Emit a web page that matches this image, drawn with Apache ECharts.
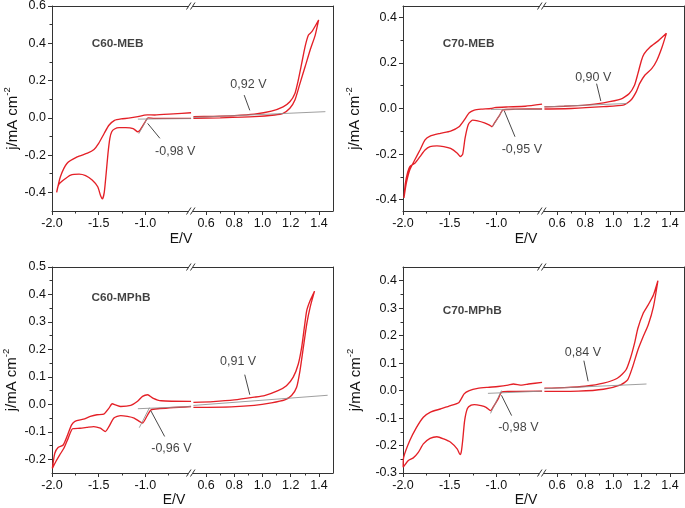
<!DOCTYPE html>
<html><head><meta charset="utf-8">
<script src="https://cdn.jsdelivr.net/npm/echarts@6/dist/echarts.min.js"></script>
<style>html,body{margin:0;padding:0;background:#fff}#c{width:685px;height:508px}</style>
</head><body><div id="c"></div>
<script>
// ---------- DATA ----------
const panelNames = ['C60-MEB', 'C70-MEB', 'C60-MPhB', 'C70-MPhB'];

// x tick labels
const xTicksLeft = [-2, -1.5, -1];
const xMinorLeft = [-1.75, -1.25, -0.75];
const xTicksRight = [0.6, 0.8, 1.0, 1.2, 1.4];
const xMinorRight = [0.7, 0.9, 1.1, 1.3];
const xRangeLeft = [-2, -0.5];
const xRangeRight = [0.5, 1.5];

// y tick labels per panel
const yRanges = [[-0.5, 0.6], [-0.45, 0.45], [-0.25, 0.5], [-0.3, 0.45]];
const yTicks1 = [-0.4, -0.2, 0, 0.2, 0.4, 0.6];
const yMinor1 = [-0.3, -0.1, 0.1, 0.3, 0.5];
const yTicks2 = [-0.4, -0.2, 0, 0.2, 0.4];
const yMinor2 = [-0.3, -0.1, 0.1, 0.3];
const yTicks3 = [-0.2, -0.1, 0, 0.1, 0.2, 0.3, 0.4, 0.5];
const yMinor3 = [-0.15, -0.05, 0.05, 0.15, 0.25, 0.35, 0.45];
const yTicks4 = [-0.3, -0.2, -0.1, 0, 0.1, 0.2, 0.3, 0.4];
const yMinor4 = [-0.25, -0.15, -0.05, 0.05, 0.15, 0.25, 0.35];

// CV curves (E/V, j/mA cm-2), in scan order
const c60mebLeft = [[-0.51,0.027],[-0.7,0.021],[-0.9,0.015],[-0.98,0.016],[-1.01,0.014],[-1.08,0.006],[-1.18,-0.002],[-1.26,-0.006],[-1.33,-0.014],[-1.39,-0.04],[-1.44,-0.083],[-1.5,-0.137],[-1.55,-0.17],[-1.62,-0.19],[-1.73,-0.21],[-1.84,-0.245],[-1.91,-0.316],[-1.95,-0.4],
  [-1.93,-0.36],[-1.877,-0.334],[-1.8,-0.307],[-1.71,-0.302],[-1.64,-0.31],[-1.57,-0.334],[-1.51,-0.37],[-1.478,-0.42],[-1.46,-0.435],[-1.44,-0.4],[-1.42,-0.3],[-1.4,-0.19],[-1.38,-0.11],[-1.36,-0.075],[-1.33,-0.06],[-1.28,-0.053],[-1.21,-0.053],[-1.13,-0.058],[-1.08,-0.075],[-1.06,-0.068],[-1.0,-0.02],[-0.97,0.0],[-0.9,-0.003],[-0.51,-0.003]];
const c60mebRight = [[0.51,-0.003],[0.7,0.0],[0.942,0.006],[1.086,0.015],[1.146,0.024],[1.194,0.051],[1.23,0.095],[1.266,0.185],[1.302,0.274],[1.338,0.364],[1.374,0.444],[1.398,0.525],
  [1.35,0.462],[1.326,0.444],[1.302,0.382],[1.278,0.292],[1.254,0.203],[1.23,0.131],[1.194,0.086],[1.146,0.059],[1.063,0.036],[0.942,0.02],[0.8,0.012],[0.65,0.008],[0.51,0.006]];
const c70mebLeft = [[-0.51,0.019],[-0.69,0.01],[-0.873,0.007],[-1.018,0.004],[-1.055,0.0],[-1.164,-0.003],[-1.236,-0.007],[-1.29,-0.019],[-1.345,-0.051],[-1.4,-0.08],[-1.49,-0.099],[-1.6,-0.109],[-1.71,-0.121],[-1.764,-0.138],[-1.818,-0.182],[-1.873,-0.225],[-1.927,-0.269],[-1.964,-0.327],[-1.99,-0.393],
  [-1.975,-0.33],[-1.95,-0.28],[-1.927,-0.255],[-1.873,-0.24],[-1.818,-0.211],[-1.764,-0.182],[-1.71,-0.167],[-1.636,-0.164],[-1.564,-0.167],[-1.49,-0.175],[-1.418,-0.196],[-1.385,-0.211],[-1.36,-0.2],[-1.335,-0.13],[-1.3,-0.07],[-1.255,-0.051],[-1.2,-0.054],[-1.127,-0.063],[-1.073,-0.073],[-1.047,-0.08],[-1.018,-0.062],[-0.964,-0.029],[-0.93,-0.006],[-0.8,-0.003],[-0.51,-0.002]];
const c70mebRight = [[0.51,-0.002],[0.7,0.0],[0.929,0.008],[1.075,0.016],[1.124,0.037],[1.161,0.073],[1.185,0.109],[1.222,0.146],[1.271,0.175],[1.307,0.211],[1.344,0.269],[1.375,0.33],
  [1.319,0.298],[1.258,0.269],[1.217,0.24],[1.198,0.211],[1.173,0.153],[1.149,0.102],[1.112,0.066],[1.051,0.041],[0.929,0.025],[0.8,0.015],[0.65,0.01],[0.51,0.007]];
const c60mphbLeft = [[-0.51,0.011],[-0.83,0.013],[-0.92,0.023],[-0.975,0.035],[-1.03,0.029],[-1.083,0.011],[-1.156,-0.004],[-1.264,-0.008],[-1.319,-0.002],[-1.355,0.002],[-1.39,-0.014],[-1.446,-0.036],[-1.518,-0.038],[-1.59,-0.044],[-1.663,-0.054],[-1.754,-0.062],[-1.79,-0.075],[-1.826,-0.105],[-1.88,-0.148],[-1.935,-0.157],[-1.97,-0.178],[-1.996,-0.233],
  [-1.96,-0.209],[-1.917,-0.184],[-1.873,-0.16],[-1.826,-0.123],[-1.78,-0.089],[-1.7,-0.087],[-1.627,-0.084],[-1.554,-0.081],[-1.482,-0.087],[-1.428,-0.099],[-1.39,-0.081],[-1.337,-0.05],[-1.264,-0.041],[-1.192,-0.044],[-1.12,-0.05],[-1.065,-0.062],[-1.029,-0.068],[-0.975,-0.038],[-0.938,-0.02],[-0.866,-0.016],[-0.51,-0.008]];
const c60mphbRight = [[0.51,-0.011],[0.779,-0.009],[0.942,-0.004],[1.063,0.005],[1.158,0.016],[1.206,0.032],[1.242,0.062],[1.266,0.123],[1.29,0.208],[1.314,0.293],[1.338,0.354],[1.369,0.412],
  [1.338,0.378],[1.314,0.342],[1.297,0.281],[1.278,0.208],[1.254,0.147],[1.218,0.099],[1.17,0.068],[1.11,0.05],[1.014,0.032],[0.942,0.026],[0.8,0.016],[0.65,0.01],[0.51,0.007]];
const c70mphbLeft = [[-0.51,0.03],[-0.655,0.024],[-0.727,0.02],[-0.818,0.024],[-0.873,0.02],[-0.982,0.015],[-1.09,0.012],[-1.2,0.008],[-1.29,0.0],[-1.345,-0.012],[-1.4,-0.043],[-1.49,-0.055],[-1.6,-0.067],[-1.71,-0.079],[-1.782,-0.097],[-1.855,-0.134],[-1.927,-0.182],[-1.993,-0.243],
  [-1.998,-0.279],[-1.945,-0.255],[-1.89,-0.245],[-1.836,-0.225],[-1.782,-0.194],[-1.71,-0.174],[-1.636,-0.168],[-1.564,-0.176],[-1.49,-0.188],[-1.418,-0.213],[-1.389,-0.233],[-1.375,-0.222],[-1.36,-0.18],[-1.34,-0.11],[-1.31,-0.065],[-1.27,-0.053],[-1.236,-0.051],[-1.164,-0.055],[-1.11,-0.061],[-1.062,-0.073],[-1.036,-0.061],[-0.982,-0.031],[-0.945,-0.006],[-0.873,-0.003],[-0.51,-0.002]];
const c70mphbRight = [[0.51,-0.003],[0.75,-0.002],[0.929,0.005],[1.051,0.021],[1.1,0.039],[1.136,0.087],[1.173,0.148],[1.21,0.196],[1.246,0.239],[1.283,0.305],[1.315,0.4],
  [1.283,0.348],[1.246,0.312],[1.21,0.281],[1.173,0.227],[1.149,0.172],[1.12,0.118],[1.088,0.075],[1.027,0.045],[0.929,0.027],[0.8,0.016],[0.65,0.011],[0.51,0.009]];

// gray construction lines
const baseLeft = [[[-1.08,-0.007],[-0.51,-0.004]], [[-1.058,-0.004],[-0.51,-0.003]], [[-1.08,-0.016],[-0.51,-0.008]], [[-1.09,-0.01],[-0.51,-0.002]]];
const tangentLeft = [[[-1.07,-0.085],[-0.975,0.0]], [[-1.04,-0.08],[-0.93,-0.005]], [[-1.065,-0.085],[-0.955,-0.012]], [[-1.062,-0.083],[-0.945,0.0]]];
const baseRight = [[[0.51,0.002],[1.446,0.033]], [[0.51,0.007],[1.095,0.022]], [[0.51,-0.004],[1.462,0.033]], [[0.51,0.007],[1.234,0.024]]];

// annotations
const potTextRight = ['0,92 V', '0,90 V', '0,91 V', '0,84 V'];
const potTextLeft = ['-0,98 V', '-0,95 V', '-0,96 V', '-0,98 V'];
const potPosRight = [[0.9,0.176], [0.856,0.138], [0.827,0.154], [0.783,0.139]];
const potPosLeft = [[-0.68,-0.18], [-0.727,-0.182], [-0.721,-0.16], [-0.764,-0.134]];
const arrowRight = [[[0.87,0.122],[0.91,0.04]], [[0.88,0.109],[0.91,0.033]], [[0.874,0.108],[0.91,0.035]], [[0.79,0.109],[0.82,0.034]]];
const arrowLeft = [[[-0.844,-0.11],[-0.975,-0.03]], [[-0.8,-0.124],[-0.915,-0.01]], [[-0.793,-0.117],[-0.94,-0.024]], [[-0.836,-0.091],[-0.945,-0.017]]];
const namePos = [[-1.58,0.4], [-1.58,0.284], [-1.583,0.388], [-1.58,0.291]];

// ---------- LAYOUT / STYLE ----------
const FONT = 'Liberation Sans';
const AX = '#333';
const RED = '#e42027';
const GRAY = '#8e8e8e';
const TXT = '#111';
const layout = [
  {L:52, M:192, R:333, T:6, B:211, ex:181, ey:232},
  {L:403, M:543, R:684, T:6, B:211, ex:526, ey:232},
  {L:52, M:192, R:333, T:267, B:473, ex:174, ey:493},
  {L:403, M:543, R:684, T:267, B:473, ex:526, ey:493}
];
const curvesLeft = [c60mebLeft, c70mebLeft, c60mphbLeft, c70mphbLeft];
const curvesRight = [c60mebRight, c70mebRight, c60mphbRight, c70mphbRight];
const yTickSets = [yTicks1, yTicks2, yTicks3, yTicks4];
const yMinorSets = [yMinor1, yMinor2, yMinor3, yMinor4];
const yNameGap = [32, 41, 33, 40];

const option = {animation:false, grid:[], xAxis:[], yAxis:[], series:[], graphic:[], title:[]};
function push(arr, o){ arr.push(o); return arr.length - 1; }
const lbl = {fontSize:12.5, color:TXT, fontFamily:FONT};

function xAxes(g, range, ticks, minors){
  const base = {type:'value', gridIndex:g, min:range[0], max:range[1], splitLine:{show:false}};
  const main = push(option.xAxis, Object.assign({}, base, {position:'bottom',
    axisLine:{show:true, onZero:false, lineStyle:{color:AX, width:1}},
    axisTick:{show:true, inside:false, length:4, customValues:ticks, lineStyle:{color:AX}},
    axisLabel:Object.assign({show:true, customValues:ticks, margin:6, formatter:v=>(+v).toFixed(1)}, lbl)}));
  push(option.xAxis, Object.assign({}, base, {position:'bottom',
    axisLine:{show:false, onZero:false},
    axisTick:{show:true, inside:false, length:2.5, customValues:minors, lineStyle:{color:AX}},
    axisLabel:{show:false}}));
  push(option.xAxis, Object.assign({}, base, {position:'top',
    axisLine:{show:true, onZero:false, lineStyle:{color:AX, width:1}},
    axisTick:{show:false}, axisLabel:{show:false}}));
  return main;
}

layout.forEach((p, i) => {
  const gL = push(option.grid, {left:p.L, top:p.T, width:p.M - p.L, height:p.B - p.T, containLabel:false, outerBoundsMode:'none'});
  const gR = push(option.grid, {left:p.M, top:p.T, width:p.R - p.M, height:p.B - p.T, containLabel:false, outerBoundsMode:'none'});
  const xl = xAxes(gL, xRangeLeft, xTicksLeft, xMinorLeft);
  const xr = xAxes(gR, xRangeRight, xTicksRight, xMinorRight);
  const yr = yRanges[i];
  const ybase = {type:'value', min:yr[0], max:yr[1], splitLine:{show:false}};
  const yl = push(option.yAxis, Object.assign({}, ybase, {gridIndex:gL, position:'left',
    name:'{m|j/mA cm}{s|-2}', nameLocation:'middle', nameRotate:90, nameGap:yNameGap[i],
    nameTextStyle:{padding:[0, 20, 0, 0], rich:{
      m:{fontSize:15, fontFamily:FONT, color:TXT, lineHeight:18, verticalAlign:'bottom'},
      s:{fontSize:9.5, fontFamily:FONT, color:TXT, lineHeight:18, verticalAlign:'top'}}},
    axisLine:{show:true, onZero:false, lineStyle:{color:AX, width:1}},
    axisTick:{show:true, inside:false, length:4, customValues:yTickSets[i], lineStyle:{color:AX}},
    axisLabel:Object.assign({show:true, customValues:yTickSets[i], margin:6, formatter:v=>(+v).toFixed(1)}, lbl)}));
  push(option.yAxis, Object.assign({}, ybase, {gridIndex:gL, position:'left',
    axisLine:{show:false, onZero:false},
    axisTick:{show:true, inside:false, length:2.5, customValues:yMinorSets[i], lineStyle:{color:AX}},
    axisLabel:{show:false}}));
  const yrr = push(option.yAxis, Object.assign({}, ybase, {gridIndex:gR, position:'right',
    axisLine:{show:true, onZero:false, lineStyle:{color:AX, width:1}},
    axisTick:{show:false}, axisLabel:{show:false}}));

  const redStyle = {color:RED, width:1.35};
  option.series.push({type:'line', xAxisIndex:xl, yAxisIndex:yl, data:curvesLeft[i], symbol:'none', smooth:0.2, lineStyle:redStyle, z:2});
  option.series.push({type:'line', xAxisIndex:xr, yAxisIndex:yrr, data:curvesRight[i], symbol:'none', smooth:0.2, lineStyle:redStyle, z:2});

  const arrowMark = (seg) => ({silent:true, symbol:['none','arrow'], symbolSize:[0,7], animation:false,
    lineStyle:{color:'#333', width:0.9, type:'solid'}, label:{show:false}, emphasis:{disabled:true},
    data:[[{coord:seg[0]}, {coord:seg[1]}]]});
  option.series.push({type:'line', xAxisIndex:xl, yAxisIndex:yl, data:baseLeft[i], symbol:'none', lineStyle:{color:GRAY, width:1, opacity:0.85}, z:3,
    markLine:arrowMark(arrowLeft[i])});
  option.series.push({type:'line', xAxisIndex:xl, yAxisIndex:yl, data:tangentLeft[i], symbol:'none', lineStyle:{color:GRAY, width:1, opacity:0.85}, z:3});
  option.series.push({type:'line', xAxisIndex:xr, yAxisIndex:yrr, data:baseRight[i], symbol:'none', lineStyle:{color:GRAY, width:1, opacity:0.85}, z:3,
    markLine:arrowMark(arrowRight[i])});

  const txt = {show:true, position:'inside', fontSize:12.5, color:TXT, fontFamily:FONT};
  option.series.push({type:'scatter', xAxisIndex:xl, yAxisIndex:yl, symbolSize:1, itemStyle:{color:'rgba(0,0,0,0)'}, silent:true, z:5,
    data:[
      {value:potPosLeft[i], label:Object.assign({}, txt, {formatter:potTextLeft[i]})},
      {value:namePos[i], label:{show:true, position:'right', distance:0, fontSize:11.8, fontWeight:'bold', color:TXT, fontFamily:FONT, formatter:panelNames[i]}}
    ]});
  option.series.push({type:'scatter', xAxisIndex:xr, yAxisIndex:yrr, symbolSize:1, itemStyle:{color:'rgba(0,0,0,0)'}, silent:true, z:5,
    data:[{value:potPosRight[i], label:Object.assign({}, txt, {formatter:potTextRight[i]})}]});

  // x-axis title
  option.title.push({text:'E/V', left:p.ex, top:p.ey, textAlign:'center', padding:0,
    textStyle:{fontSize:14, fontWeight:'normal', fontFamily:FONT, color:TXT}});
  // axis-break marks
  [p.T, p.B].forEach(yy => {
    option.graphic.push({type:'rect', shape:{x:p.M - 3, y:yy - 1.5, width:4, height:3}, style:{fill:'#fff'}, z:100});
    option.graphic.push({type:'line', shape:{x1:p.M - 5.5, y1:yy + 3.5, x2:p.M - 1, y2:yy - 3.5}, style:{stroke:AX, lineWidth:1}, z:101});
    option.graphic.push({type:'line', shape:{x1:p.M - 1.5, y1:yy + 3.5, x2:p.M + 3, y2:yy - 3.5}, style:{stroke:AX, lineWidth:1}, z:101});
  });
});

const chart = echarts.init(document.getElementById('c'), null, {renderer:'canvas'});
chart.setOption(option);
</script>
</body></html>
